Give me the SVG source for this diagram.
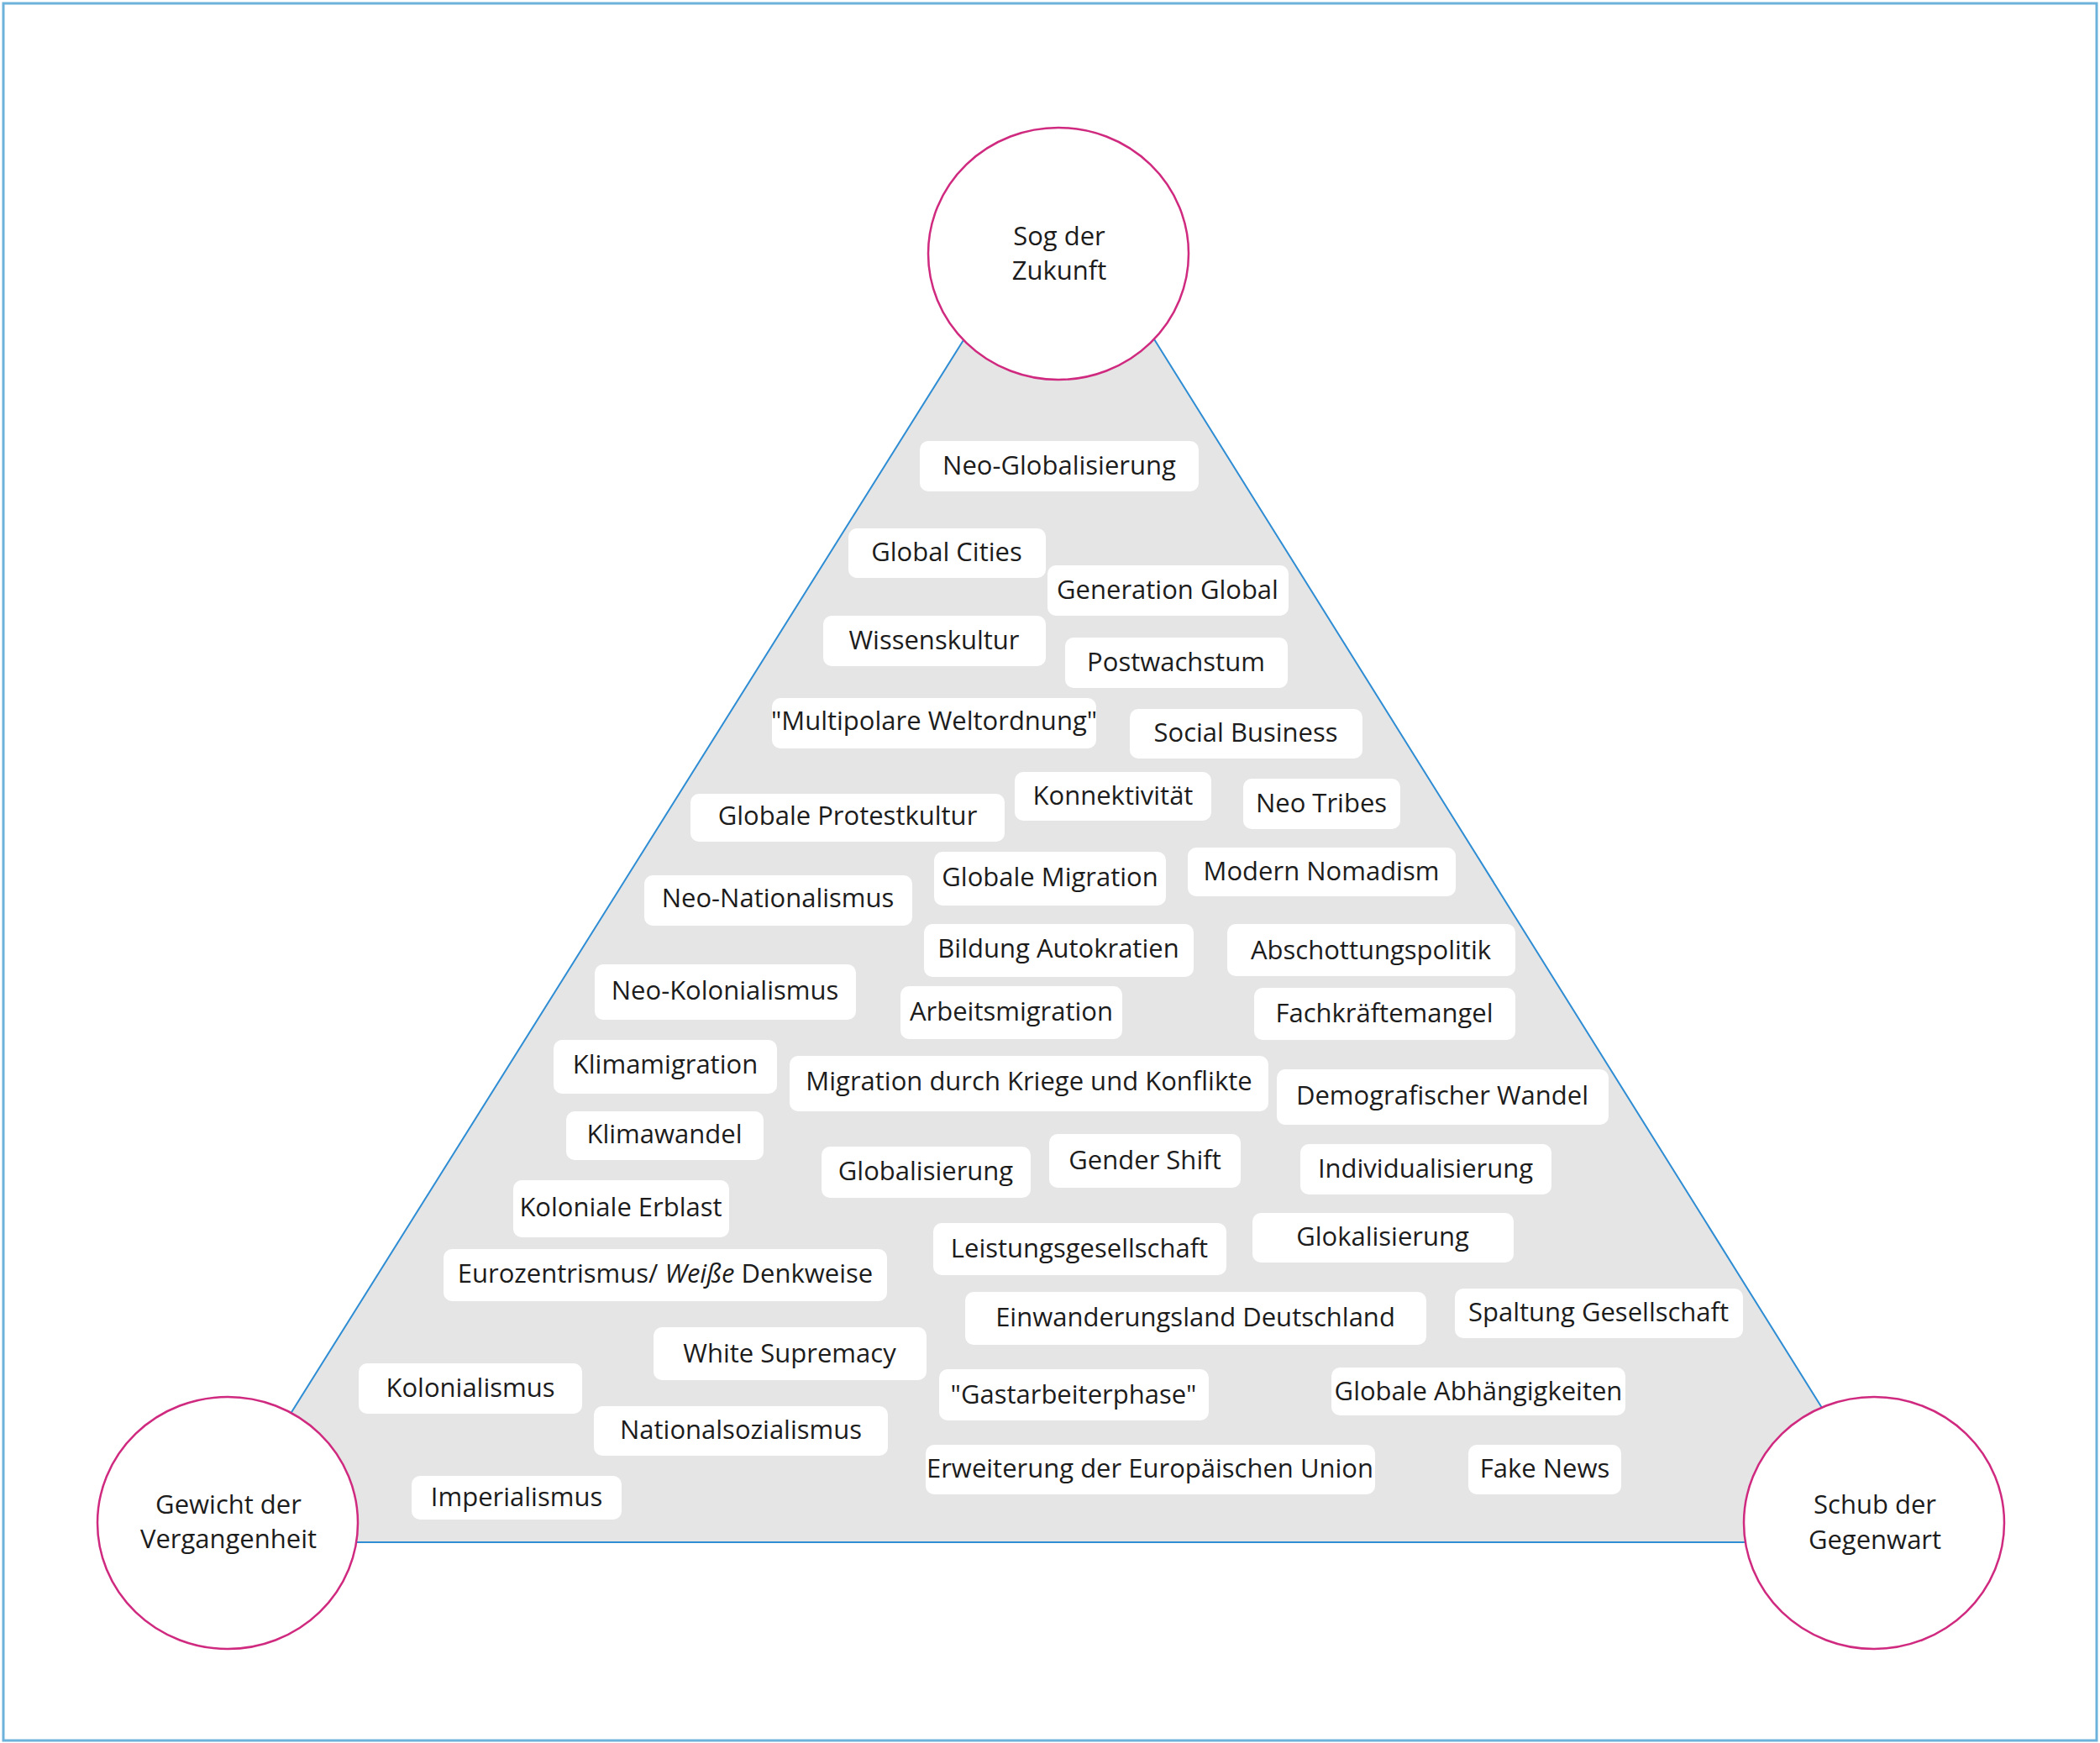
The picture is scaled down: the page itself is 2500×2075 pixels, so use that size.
<svg xmlns="http://www.w3.org/2000/svg" width="2500" height="2075" viewBox="0 0 2500 2075">
<style>
.frame{fill:#ffffff;stroke:#6cb2da;stroke-width:3}
.tri{fill:#e5e5e5;stroke:#2f8dd4;stroke-width:2}
.circ{fill:#ffffff;stroke:#cf2a7f;stroke-width:2.5}
.box{fill:#ffffff}
.t{font-family:"Open Sans","Noto Sans","DejaVu Sans",sans-serif;font-size:31px;fill:#1c1c1c;text-anchor:middle}
</style>
<rect class="frame" x="4" y="4" width="2492" height="2068"/>
<g id="connectors">
<polygon class="tri" points="1261,223 250,1836 2269,1836"/>
</g>
<g id="n-sog"><ellipse class="circ" cx="1260" cy="302" rx="155" ry="150"/><text class="t" x="1261" y="292">Sog der</text><text class="t" x="1261" y="333">Zukunft</text></g>
<g id="n-gewicht"><ellipse class="circ" cx="271" cy="1813" rx="155" ry="150"/><text class="t" x="272" y="1802">Gewicht der</text><text class="t" x="272" y="1843">Vergangenheit</text></g>
<g id="n-schub"><ellipse class="circ" cx="2231" cy="1813" rx="155" ry="150"/><text class="t" x="2232" y="1802">Schub der</text><text class="t" x="2232" y="1844">Gegenwart</text></g>
<g id="b1"><rect class="box" x="1095" y="525" width="332" height="60" rx="10"/><text class="t" x="1261" y="565">Neo-Globalisierung</text></g>
<g id="b2"><rect class="box" x="1010" y="629" width="235" height="59" rx="10"/><text class="t" x="1127" y="668">Global Cities</text></g>
<g id="b3"><rect class="box" x="1247" y="673" width="287" height="60" rx="10"/><text class="t" x="1390" y="713">Generation Global</text></g>
<g id="b4"><rect class="box" x="980" y="733" width="265" height="60" rx="10"/><text class="t" x="1112" y="773">Wissenskultur</text></g>
<g id="b5"><rect class="box" x="1268" y="759" width="265" height="60" rx="10"/><text class="t" x="1400" y="799">Postwachstum</text></g>
<g id="b6"><rect class="box" x="919" y="831" width="386" height="60" rx="10"/><text class="t" x="1112" y="869">"Multipolare Weltordnung"</text></g>
<g id="b7"><rect class="box" x="1345" y="844" width="277" height="59" rx="10"/><text class="t" x="1483" y="883">Social Business</text></g>
<g id="b8"><rect class="box" x="1208" y="919" width="234" height="58" rx="10"/><text class="t" x="1325" y="958">Konnektivität</text></g>
<g id="b9"><rect class="box" x="1480" y="927" width="187" height="60" rx="10"/><text class="t" x="1573" y="967">Neo Tribes</text></g>
<g id="b10"><rect class="box" x="822" y="945" width="374" height="57" rx="10"/><text class="t" x="1009" y="982">Globale Protestkultur</text></g>
<g id="b11"><rect class="box" x="1112" y="1014" width="276" height="64" rx="10"/><text class="t" x="1250" y="1055">Globale Migration</text></g>
<g id="b12"><rect class="box" x="1414" y="1009" width="319" height="58" rx="10"/><text class="t" x="1573" y="1048">Modern Nomadism</text></g>
<g id="b13"><rect class="box" x="767" y="1042" width="319" height="60" rx="10"/><text class="t" x="926" y="1080">Neo-Nationalismus</text></g>
<g id="b14"><rect class="box" x="1100" y="1100" width="321" height="63" rx="10"/><text class="t" x="1260" y="1140">Bildung Autokratien</text></g>
<g id="b15"><rect class="box" x="1461" y="1100" width="343" height="62" rx="10"/><text class="t" x="1632" y="1142">Abschottungspolitik</text></g>
<g id="b16"><rect class="box" x="708" y="1148" width="311" height="66" rx="10"/><text class="t" x="863" y="1190">Neo-Kolonialismus</text></g>
<g id="b17"><rect class="box" x="1072" y="1174" width="264" height="63" rx="10"/><text class="t" x="1204" y="1215">Arbeitsmigration</text></g>
<g id="b18"><rect class="box" x="1493" y="1176" width="311" height="62" rx="10"/><text class="t" x="1648" y="1217">Fachkräftemangel</text></g>
<g id="b19"><rect class="box" x="659" y="1238" width="266" height="64" rx="10"/><text class="t" x="792" y="1278">Klimamigration</text></g>
<g id="b20"><rect class="box" x="940" y="1257" width="570" height="66" rx="10"/><text class="t" x="1225" y="1298">Migration durch Kriege und Konflikte</text></g>
<g id="b21"><rect class="box" x="1520" y="1273" width="395" height="66" rx="10"/><text class="t" x="1717" y="1315">Demografischer Wandel</text></g>
<g id="b22"><rect class="box" x="674" y="1323" width="235" height="58" rx="10"/><text class="t" x="791" y="1361">Klimawandel</text></g>
<g id="b23"><rect class="box" x="978" y="1365" width="249" height="61" rx="10"/><text class="t" x="1102" y="1405">Globalisierung</text></g>
<g id="b24"><rect class="box" x="1249" y="1350" width="228" height="64" rx="10"/><text class="t" x="1363" y="1392">Gender Shift</text></g>
<g id="b25"><rect class="box" x="1548" y="1362" width="299" height="60" rx="10"/><text class="t" x="1697" y="1402">Individualisierung</text></g>
<g id="b26"><rect class="box" x="611" y="1405" width="257" height="68" rx="10"/><text class="t" x="739" y="1448">Koloniale Erblast</text></g>
<g id="b27"><rect class="box" x="1111" y="1456" width="349" height="62" rx="10"/><text class="t" x="1285" y="1497">Leistungsgesellschaft</text></g>
<g id="b28"><rect class="box" x="1491" y="1444" width="311" height="59" rx="10"/><text class="t" x="1646" y="1483">Glokalisierung</text></g>
<g id="b29"><rect class="box" x="528" y="1487" width="528" height="62" rx="10"/><text class="t" x="792" y="1527">Eurozentrismus/ <tspan font-style="italic">Weiße</tspan> Denkweise</text></g>
<g id="b30"><rect class="box" x="1149" y="1538" width="549" height="63" rx="10"/><text class="t" x="1423" y="1579">Einwanderungsland Deutschland</text></g>
<g id="b31"><rect class="box" x="1732" y="1534" width="343" height="59" rx="10"/><text class="t" x="1903" y="1573">Spaltung Gesellschaft</text></g>
<g id="b32"><rect class="box" x="778" y="1580" width="325" height="63" rx="10"/><text class="t" x="940" y="1622">White Supremacy</text></g>
<g id="b33"><rect class="box" x="427" y="1623" width="266" height="60" rx="10"/><text class="t" x="560" y="1663">Kolonialismus</text></g>
<g id="b34"><rect class="box" x="1118" y="1630" width="321" height="61" rx="10"/><text class="t" x="1278" y="1671">"Gastarbeiterphase"</text></g>
<g id="b35"><rect class="box" x="1585" y="1628" width="350" height="57" rx="10"/><text class="t" x="1760" y="1667">Globale Abhängigkeiten</text></g>
<g id="b36"><rect class="box" x="707" y="1674" width="350" height="59" rx="10"/><text class="t" x="882" y="1713">Nationalsozialismus</text></g>
<g id="b37"><rect class="box" x="1102" y="1720" width="535" height="59" rx="10"/><text class="t" x="1369" y="1759">Erweiterung der Europäischen Union</text></g>
<g id="b38"><rect class="box" x="1748" y="1720" width="182" height="59" rx="10"/><text class="t" x="1839" y="1759">Fake News</text></g>
<g id="b39"><rect class="box" x="490" y="1757" width="250" height="52" rx="10"/><text class="t" x="615" y="1793">Imperialismus</text></g>
</svg>
